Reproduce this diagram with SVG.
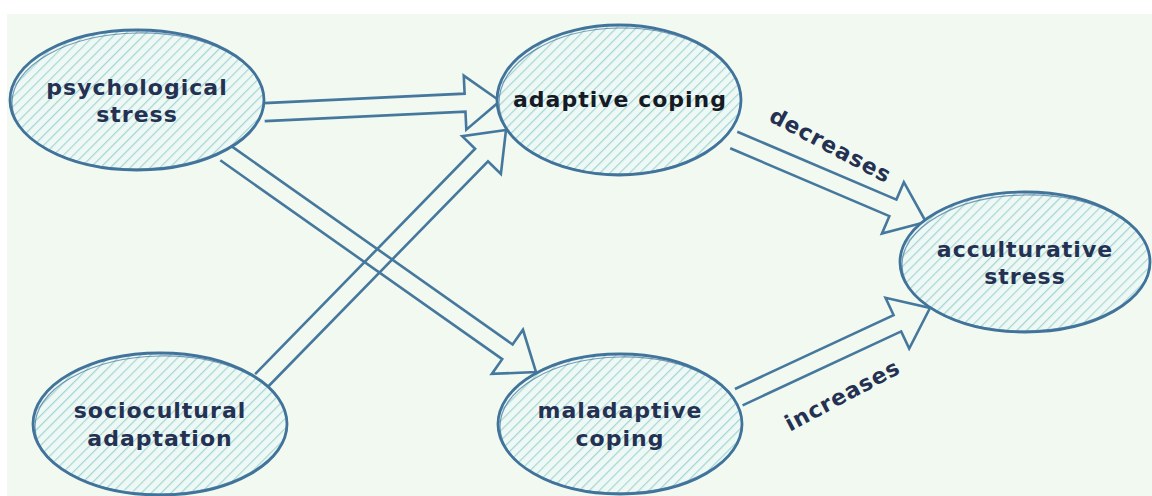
<svg xmlns="http://www.w3.org/2000/svg" width="1152" height="496" viewBox="0 0 1152 496">
  <defs>
    <pattern id="hatch" width="7" height="7" patternUnits="userSpaceOnUse" patternTransform="rotate(45)">
      <rect width="7" height="7" fill="#eef8f5"/>
      <line x1="0" y1="0" x2="0" y2="7" stroke="#a4d6d3" stroke-width="2.4"/>
    </pattern>
  </defs>
  <style>
    .node ellipse.main { fill: url(#hatch); stroke: #41739b; stroke-width: 2.8; }
    .node ellipse.sk { fill: none; stroke: #41739b; stroke-width: 1.2; opacity: 0.7; }
    .lbl { font-family: "DejaVu Sans", "Liberation Sans", sans-serif; font-weight: bold; font-size: 22px; letter-spacing: 1px; fill: #243152; text-anchor: middle; }
    .arrow { fill: none; stroke: #46789e; stroke-width: 2.6; stroke-linejoin: miter; }
  </style>
  <rect width="1152" height="496" fill="#ffffff"/>
  <rect x="7" y="14" width="1145" height="482" fill="#f1f9f0"/>

  <g id="connectors">
    <g id="e1" transform="translate(500,101) rotate(-2.7)">
      <path class="arrow" d="M-236,-9 L-35,-9 L-35,-27 L0,0 L-35,27 L-35,9 L-236,9"/>
    </g>
    <g id="e2" transform="translate(506,130) rotate(-45.7)">
      <path class="arrow" d="M-350,-9 L-35,-9 L-35,-27 L0,0 L-35,27 L-35,9 L-350,9"/>
    </g>
    <g id="e3" transform="translate(536,372) rotate(35.2)">
      <path class="arrow" d="M-380,-9 L-35,-9 L-35,-27 L0,0 L-35,27 L-35,9 L-380,9"/>
    </g>
    <g id="e4" transform="translate(926,222) rotate(23.1)">
      <path class="arrow" d="M-209,-9 L-36,-9 L-36,-28 L0,0 L-36,28 L-36,9 L-209,9"/>
    </g>
    <g id="e5" transform="translate(930,308) rotate(-25)">
      <path class="arrow" d="M-211,-9 L-36,-9 L-36,-28 L0,0 L-36,28 L-36,9 L-211,9"/>
    </g>
    <text class="lbl" transform="translate(827,152) rotate(28)">decreases</text>
    <text class="lbl" transform="translate(846,402) rotate(-28)">increases</text>
  </g>

  <g id="psychological-stress" class="node">
    <ellipse class="main" cx="137" cy="100" rx="127" ry="70"/>
    <ellipse class="sk" cx="138" cy="101" rx="126" ry="68" transform="rotate(-1 138 101)"/>
    <text class="lbl" x="137" y="95">psychological</text>
    <text class="lbl" x="137" y="122">stress</text>
  </g>

  <g id="adaptive-coping" class="node">
    <ellipse class="main" cx="619" cy="100" rx="122" ry="75"/>
    <ellipse class="sk" cx="620" cy="101" rx="121" ry="73" transform="rotate(-1 620 101)"/>
    <text class="lbl" x="620" y="107" style="fill:#151a24">adaptive coping</text>
  </g>

  <g id="acculturative-stress" class="node">
    <ellipse class="main" cx="1025" cy="262" rx="125" ry="70"/>
    <ellipse class="sk" cx="1026" cy="263" rx="124" ry="68" transform="rotate(-1 1026 263)"/>
    <text class="lbl" x="1025" y="257">acculturative</text>
    <text class="lbl" x="1025" y="284">stress</text>
  </g>

  <g id="maladaptive-coping" class="node">
    <ellipse class="main" cx="620" cy="424" rx="122" ry="70"/>
    <ellipse class="sk" cx="621" cy="425" rx="121" ry="68" transform="rotate(-1 621 425)"/>
    <text class="lbl" x="620" y="418">maladaptive</text>
    <text class="lbl" x="620" y="446">coping</text>
  </g>

  <g id="sociocultural-adaptation" class="node">
    <ellipse class="main" cx="160" cy="424" rx="127" ry="71"/>
    <ellipse class="sk" cx="161" cy="425" rx="126" ry="69" transform="rotate(-1 161 425)"/>
    <text class="lbl" x="160" y="418">sociocultural</text>
    <text class="lbl" x="160" y="446">adaptation</text>
  </g>
</svg>
